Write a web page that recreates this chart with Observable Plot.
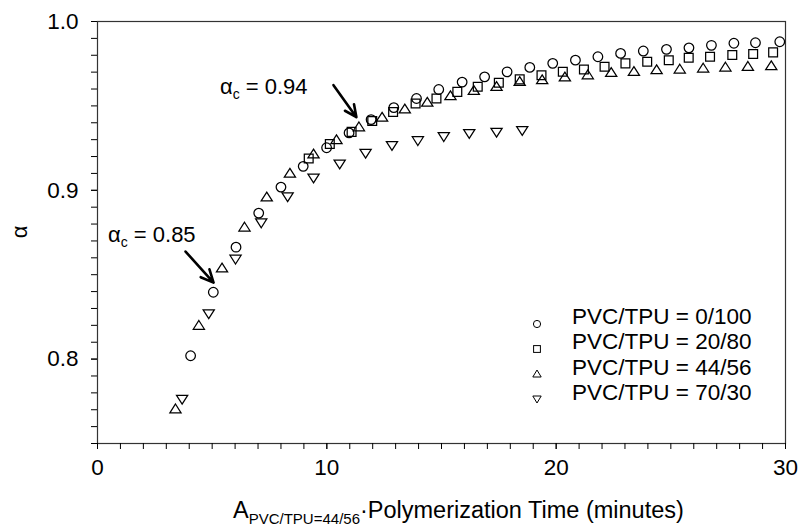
<!DOCTYPE html>
<html><head><meta charset="utf-8">
<script src="https://cdn.jsdelivr.net/npm/d3@7"></script>
<script src="https://cdn.jsdelivr.net/npm/@observablehq/plot@0.6"></script>
<style>
body{margin:0;background:#fff;font-family:"Liberation Sans",Arial,sans-serif;}
#wrap{position:relative;width:802px;height:527px;overflow:hidden;}
.ov{position:absolute;font-size:22px;color:#000;white-space:nowrap;line-height:1;}
.ov sub{font-size:14px;vertical-align:baseline;position:relative;top:5px;}
.ttl{font-size:23.5px;}
.ttl sub{font-size:15px;top:6px;}
.leg{font-size:22.5px;}
</style></head><body><div id="wrap"></div>
<script>
const seriesNames = ["PVC/TPU = 0/100","PVC/TPU = 20/80","PVC/TPU = 44/56","PVC/TPU = 70/30"];
const t0 = [4.06,5.05,6.04,7.03,8.00,8.97,9.99,10.97,11.93,12.92,13.91,14.88,15.90,16.88,17.86,18.85,19.85,20.84,21.82,22.81,23.80,24.81,25.79,26.77,27.75,28.69,29.75];
const a0 = [0.802,0.8396,0.8663,0.8865,0.9019,0.9142,0.9252,0.934,0.9419,0.949,0.9544,0.9597,0.9641,0.9672,0.9702,0.9728,0.9752,0.9771,0.9791,0.9811,0.9825,0.9835,0.9844,0.9859,0.9871,0.9874,0.988];
const t20 = [9.21,10.13,11.08,11.98,12.89,13.87,14.78,15.69,16.58,17.50,18.41,19.36,20.29,21.21,22.11,23.02,23.97,24.91,25.78,26.71,27.68,28.59,29.46];
const a20 = [0.9188,0.9274,0.9346,0.9411,0.9464,0.9514,0.9544,0.9583,0.9613,0.9637,0.9657,0.9682,0.9702,0.9716,0.9732,0.9752,0.9761,0.9771,0.9785,0.9791,0.9801,0.9807,0.9817];
const t44 = [3.40,4.42,5.43,6.41,7.38,8.39,9.42,10.42,11.40,12.41,13.40,14.38,15.39,16.41,17.40,18.41,19.39,20.38,21.38,22.40,23.39,24.38,25.39,26.41,27.38,28.36,29.38];
const a44 = [0.7703,0.8198,0.8538,0.878,0.8958,0.9099,0.9213,0.9298,0.9374,0.9431,0.948,0.952,0.9558,0.9589,0.9613,0.9643,0.9653,0.9669,0.9682,0.9696,0.9702,0.9712,0.9716,0.9722,0.9728,0.9732,0.9736];
const t70 = [3.69,4.85,6.02,7.14,8.29,9.42,10.56,11.69,12.84,13.97,15.10,16.21,17.40,18.52];
const a70 = [0.7764,0.8271,0.8594,0.8809,0.8964,0.9075,0.9158,0.9221,0.9267,0.9296,0.932,0.9338,0.9346,0.9356];

const xMajor = [0,10,20,30];
const xMinor = d3.range(0,31,1);
const yMajor = [0.8,0.9,1.0];
const yMinor = d3.range(75,101,1).map(d=>d/100);

const annoValues = ["0.85","0.94"];
const annoTextX = [0.48, 5.36];
const annoTextY = [0.8685, 0.9564];
const arrowX1 = [3.84, 10.29], arrowY1 = [0.8637, 0.9623];
const arrowX2 = [5.06, 11.29], arrowY2 = [0.8453, 0.9433];

const symCircle = {draw(c){c.moveTo(4.8,0);c.arc(0,0,4.8,0,2*Math.PI);}};
const symSquare = {draw(c){c.rect(-4.4,-4.4,8.8,8.8);}};
const symUp = {draw(c){c.moveTo(0,-5.2);c.lineTo(5.6,3.6);c.lineTo(-5.6,3.6);c.closePath();}};
const symDown = {draw(c){c.moveTo(0,5.2);c.lineTo(5.6,-3.6);c.lineTo(-5.6,-3.6);c.closePath();}};
const symbols = [symCircle, symSquare, symUp, symDown];
const series = [[t0,a0],[t20,a20],[t44,a44],[t70,a70]];

const dotMarks = series.map(([ts,as],i)=>Plot.dot(ts.map((t,j)=>({t, a: as[j]})),
  {x:"t", y:"a", symbol: symbols[i], r: 5, stroke:"#000", fill:"none", strokeWidth:1.25}));

const arrows = arrowX1.map((d,i)=>({x1:arrowX1[i],y1:arrowY1[i],x2:arrowX2[i],y2:arrowY2[i]}));

const chart = Plot.plot({
  width:802, height:527, marginLeft:97, marginRight:17, marginTop:21, marginBottom:84,
  style:{fontFamily:"'Liberation Sans', Arial, sans-serif", fontSize:"22px", color:"#000", background:"#fff"},
  x:{domain:[0,30]}, y:{domain:[0.75,1.0]},
  marks:[
    Plot.frame({stroke:"#333", strokeWidth:1.2}),
    Plot.axisX(xMinor,{tickSize:6, tickFormat:()=>"", label:null}),
    Plot.axisX(xMajor,{tickSize:6, tickPadding:10, tickFormat:d=>String(d), label:null, fontSize:22.5}),
    Plot.axisY(yMinor,{tickSize:6, tickFormat:()=>"", label:null}),
    Plot.axisY(yMajor,{tickSize:6, tickPadding:13, tickFormat:d=>d.toFixed(1), label:null, fontSize:22.5}),
    ...dotMarks,
    Plot.arrow(arrows,{x1:"x1",y1:"y1",x2:"x2",y2:"y2",stroke:"#000",strokeWidth:2.6,headLength:14,headAngle:50})
  ]
});
const wrap = document.getElementById("wrap");
wrap.appendChild(chart);
const sx = chart.scale("x"), sy = chart.scale("y");

function addDiv(html, left, top, extra, cls){
  const d = document.createElement("div");
  d.className = "ov" + (cls ? " "+cls : ""); d.innerHTML = html;
  d.style.left = left+"px"; d.style.top = top+"px";
  if (extra) Object.assign(d.style, extra);
  wrap.appendChild(d); return d;
}
// annotations
annoValues.forEach((v,i)=>{
  addDiv("α<sub>c</sub> = "+v, sx.apply(annoTextX[i]), sy.apply(annoTextY[i]) - 18.6);
});
// axis titles
addDiv("A<sub>PVC/TPU=44/56</sub>·Polymerization Time (minutes)", 233, 499, null, "ttl");
addDiv("α", 20, 232, {transform:"translate(-50%,-50%) rotate(-90deg)"});
// legend
const legSvg = [
  '<circle cx="5" cy="5" r="3.6" fill="none" stroke="#000" stroke-width="1"/>',
  '<rect x="1.6" y="1.6" width="6.8" height="6.8" fill="none" stroke="#000" stroke-width="1"/>',
  '<path d="M5,1 L9.2,8 L0.8,8 Z" fill="none" stroke="#000" stroke-width="1"/>',
  '<path d="M5,9 L9.2,2 L0.8,2 Z" fill="none" stroke="#000" stroke-width="1"/>'
];
seriesNames.forEach((name,i)=>{
  const base = 325 + i*25.3;
  addDiv(name, 572, base - 19, null, "leg");
  addDiv('<svg width="10" height="10" style="display:block">'+legSvg[i]+'</svg>', 531.5, base - 6.5);
});
</script>
</body></html>
